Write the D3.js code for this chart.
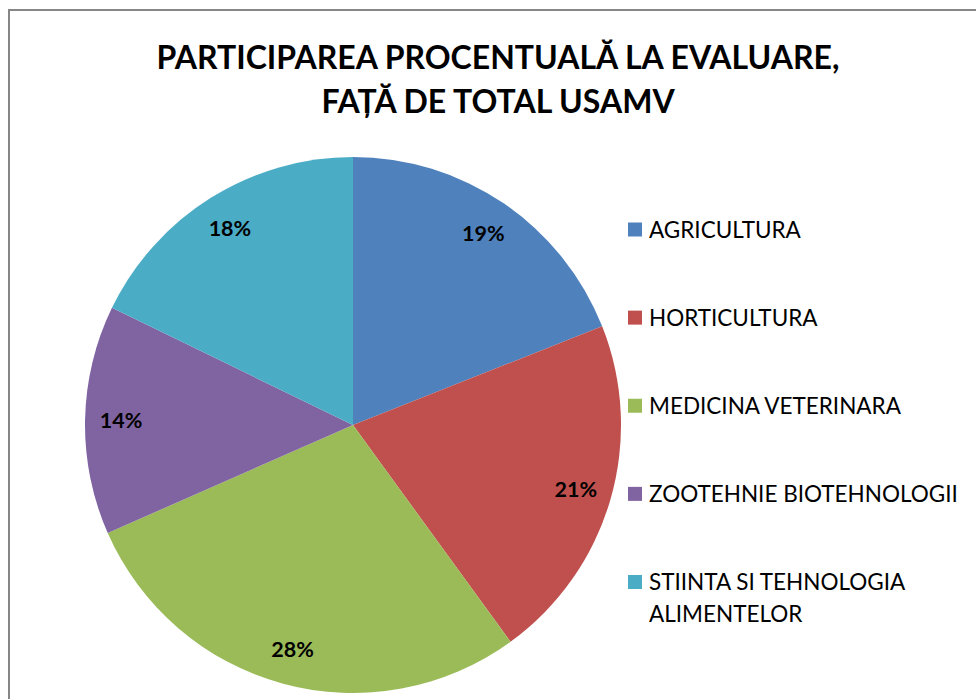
<!DOCTYPE html>
<html>
<head>
<meta charset="utf-8">
<script src="https://cdn.jsdelivr.net/npm/d3@7"></script>
<style>
  body { margin: 0; background: #fff; }
  svg { display: block; }
</style>
</head>
<body>
<div id="chart"></div>
<script>
// data
const categories = ["AGRICULTURA", "HORTICULTURA", "MEDICINA VETERINARA", "ZOOTEHNIE BIOTEHNOLOGII", "STIINTA SI TEHNOLOGIA ALIMENTELOR"];
const shares = [19.0, 21.0, 28.4, 13.8, 17.8];
const colors = ["#4F81BD", "#C0504D", "#9BBB59", "#8064A2", "#4BACC6"];
const legendLines = [["AGRICULTURA"], ["HORTICULTURA"], ["MEDICINA VETERINARA"], ["ZOOTEHNIE BIOTEHNOLOGII"], ["STIINTA SI TEHNOLOGIA", "ALIMENTELOR"]];
const titleLines = ["PARTICIPAREA PROCENTUALĂ LA EVALUARE,", "FAȚĂ DE TOTAL USAMV"];

const width = 976, height = 699;
const cx = 353, cy = 425, radius = 268;

const svg = d3.select("#chart")
  .append("svg")
  .attr("width", width)
  .attr("height", height);

// chart area border (runs off the right and bottom edges)
svg.append("rect")
  .attr("x", 9)
  .attr("y", 10)
  .attr("width", width + 20)
  .attr("height", height + 20)
  .attr("fill", "#fff")
  .attr("stroke", "#868686")
  .attr("stroke-width", 2);

// title
svg.append("g")
  .selectAll("text")
  .data(titleLines)
  .join("text")
  .attr("x", 498)
  .attr("y", (d, i) => 69 + i * 44)
  .attr("text-anchor", "middle")
  .attr("font-family", "Lato, 'Open Sans', sans-serif")
  .attr("font-weight", "bold")
  .attr("font-size", 32)
  .attr("fill", "#000")
  .text(d => d);

const data = categories.map((c, i) => ({ name: c, value: shares[i], color: colors[i] }));
const total = d3.sum(shares);

const pie = d3.pie()
  .value(d => d.value)
  .sort(null);

const arc = d3.arc()
  .innerRadius(0)
  .outerRadius(radius);

const labelArc = d3.arc()
  .innerRadius(232)
  .outerRadius(232);

const g = svg.append("g")
  .attr("transform", `translate(${cx},${cy})`);

const arcs = pie(data);

g.selectAll("path")
  .data(arcs)
  .join("path")
  .attr("d", arc)
  .attr("fill", d => d.data.color);

g.selectAll("text")
  .data(arcs)
  .join("text")
  .attr("transform", d => `translate(${labelArc.centroid(d)})`)
  .attr("text-anchor", "middle")
  .attr("dy", "0.36em")
  .attr("font-family", "Lato, 'Open Sans', sans-serif")
  .attr("font-weight", "bold")
  .attr("font-size", 21.5)
  .attr("fill", "#000")
  .text(d => Math.round(d.data.value / total * 100) + "%");

// legend
const legendY = d3.scalePoint()
  .domain(categories)
  .range([229.5, 582]);

const legend = svg.append("g");

const item = legend.selectAll("g")
  .data(data)
  .join("g")
  .attr("transform", d => `translate(628,${legendY(d.name)})`);

item.append("rect")
  .attr("x", 0)
  .attr("y", -7)
  .attr("width", 14)
  .attr("height", 14)
  .attr("fill", d => d.color);

item.append("text")
  .attr("font-family", "Lato, 'Open Sans', sans-serif")
  .attr("font-size", 22.5)
  .attr("fill", "#000")
  .selectAll("tspan")
  .data((d, i) => legendLines[i])
  .join("tspan")
  .attr("x", 21)
  .attr("y", (d, i) => 8 + i * 32)
  .text(d => d);
</script>
</body>
</html>
